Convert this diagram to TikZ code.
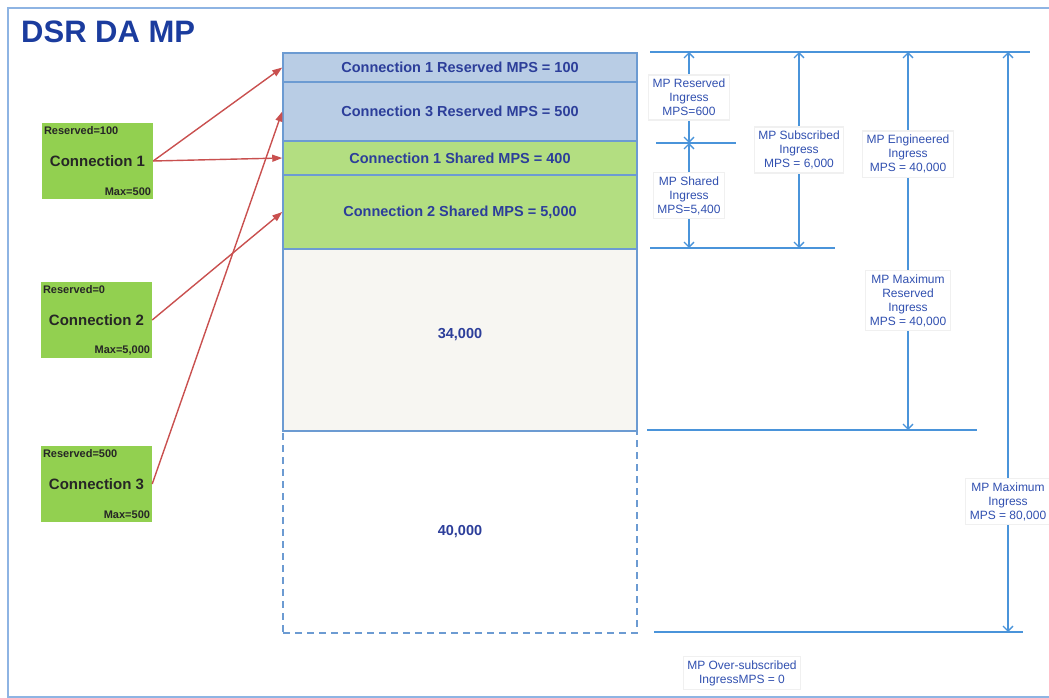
\documentclass[tikz,border=0pt]{standalone}
\usepackage{fontspec}
\setmainfont{Liberation Sans}
\usetikzlibrary{arrows.meta,positioning}

\definecolor{frameblue}{HTML}{8EB4E3}
\definecolor{titleblue}{HTML}{1B3C9E}
\definecolor{rowline}{HTML}{6C9BD2}
\definecolor{rowtext}{HTML}{2C3E9A}
\definecolor{resvfill}{HTML}{B9CDE5}
\definecolor{sharedfill}{HTML}{B3DE81}
\definecolor{freefill}{HTML}{F7F6F2}
\definecolor{conngreen}{HTML}{92D050}
\definecolor{feedred}{HTML}{C9504F}
\definecolor{dimblue}{HTML}{4A94DA}
\definecolor{dimtext}{HTML}{3150B0}

\tikzset{
	rowbox/.style={draw=rowline, line width=1.5pt, minimum width=354pt, inner sep=0pt,
		text=rowtext, font=\fontsize{14.5}{17}\selectfont\bfseries},
	connbox/.style={fill=conngreen, minimum width=111pt, minimum height=76pt, inner sep=0pt,
		text=black!85, font=\fontsize{15}{18}\selectfont\bfseries},
	connnote/.style={inner sep=2pt, text=black!85, font=\fontsize{11}{13}\selectfont\bfseries},
	feed/.style={draw=feedred, line width=1.4pt, -{Triangle[length=10pt,width=7pt]}},
	dimline/.style={draw=dimblue, line width=1.3pt},
	dimarrow/.style={dimline, {Straight Barb[length=5pt,width=10pt]}-{Straight Barb[length=5pt,width=10pt]}},
	dimlabel/.style={fill=white, draw=black!6, text=dimtext, align=center, inner sep=4pt,
		font=\fontsize{12}{14}\selectfont},
}

\begin{document}
\begin{tikzpicture}[x=1pt, y=-1pt]
	\useasboundingbox (0,0) rectangle (1049,698);
	
	% Frame and title
	\draw[frameblue, line width=2pt] (8,8) rectangle (1062,697);
	\node[anchor=west, inner sep=0pt, text=titleblue, font=\fontsize{31}{36}\selectfont\bfseries] (title) at (21,32) {DSR DA MP};
	
	% The MP stack
	\node[rowbox, fill=resvfill, minimum height=29pt] (r1) at (460,67.5) {Connection 1 Reserved MPS = 100};
	\node[rowbox, fill=resvfill, minimum height=59pt] (r2) at (460,111.5) {Connection 3 Reserved MPS = 500};
	\node[rowbox, fill=sharedfill, minimum height=34pt] (r3) at (460,158) {Connection 1 Shared MPS = 400};
	\node[rowbox, fill=sharedfill, minimum height=74pt] (r4) at (460,212) {Connection 2 Shared MPS = 5,000};
	\node[rowbox, fill=freefill, minimum height=182pt, text depth=14pt] (r5) at (460,340) {34,000};
	\node[rowbox, dashed, dash pattern=on 7pt off 5pt, minimum height=202pt] (r6) at (460,532) {40,000};
	
	% Connections
	\node[connbox] (c1) at (97.5,161) {Connection 1};
	\node[connbox] (c2) at (96.5,320) {Connection 2};
	\node[connbox] (c3) at (96.5,484) {Connection 3};
	\node[connnote, anchor=north west, yshift=-2pt] (c1res) at (c1.north west) {Reserved=100};
	\node[connnote, anchor=south east, yshift=1pt] (c1max) at (c1.south east) {Max=500};
	\node[connnote, anchor=north west, yshift=-2pt] (c2res) at (c2.north west) {Reserved=0};
	\node[connnote, anchor=south east, yshift=1pt] (c2max) at (c2.south east) {Max=5,000};
	\node[connnote, anchor=north west, yshift=-2pt] (c3res) at (c3.north west) {Reserved=500};
	\node[connnote, anchor=south east, yshift=1pt] (c3max) at (c3.south east) {Max=500};
	
	% Feeds into the stack
	\draw[feed] (c1.east) -- (r1.west);
	\draw[feed] (c1.east) -- (r3.west);
	\draw[feed] (c2.east) -- (r4.west);
	\draw[feed] (c3.east) -- (r2.west);
	
	% Level lines
	\coordinate (topL) at (650,52);   \coordinate (topR) at (1030,52);
	\coordinate (resvL) at (656,143); \coordinate (resvR) at (736,143);
	\coordinate (subL) at (650,248);  \coordinate (subR) at (835,248);
	\coordinate (engL) at (647,430);  \coordinate (engR) at (977,430);
	\coordinate (maxL) at (654,632);  \coordinate (maxR) at (1023,632);
	\draw[dimline] (topL) -- (topR);
	\draw[dimline] (resvL) -- (resvR);
	\draw[dimline] (subL) -- (subR);
	\draw[dimline] (engL) -- (engR);
	\draw[dimline] (maxL) -- (maxR);
	
	% Dimension arrows
	\coordinate (d1a) at (689,52);  \coordinate (d1b) at (689,143); \coordinate (d1c) at (689,248);
	\coordinate (d2a) at (799,52);  \coordinate (d2b) at (799,248);
	\coordinate (d3a) at (908,52);  \coordinate (d3b) at (908,430);
	\coordinate (d4a) at (1008,52); \coordinate (d4b) at (1008,632);
	\draw[dimarrow] (d1a) -- node[dimlabel] (lresv) {MP Reserved\\Ingress\\MPS=600} (d1b);
	\draw[dimarrow] (d1b) -- node[dimlabel] (lshared) {MP Shared\\Ingress\\MPS=5,400} (d1c);
	\draw[dimarrow] (d2a) -- node[dimlabel] (lsub) {MP Subscribed\\Ingress\\MPS = 6,000} (d2b);
	\draw[dimarrow] (d3a) -- node[dimlabel, pos=0.27] (leng) {MP Engineered\\Ingress\\MPS = 40,000}
		node[dimlabel, pos=0.658] (lmaxres) {MP Maximum\\Reserved\\Ingress\\MPS = 40,000} (d3b);
	\draw[dimarrow] (d4a) -- node[dimlabel, pos=0.775] (lmax) {MP Maximum\\Ingress\\MPS = 80,000} (d4b);
	\node[dimlabel] (lover) at (742,673) {MP Over-subscribed\\IngressMPS = 0};
\end{tikzpicture}
\end{document}
